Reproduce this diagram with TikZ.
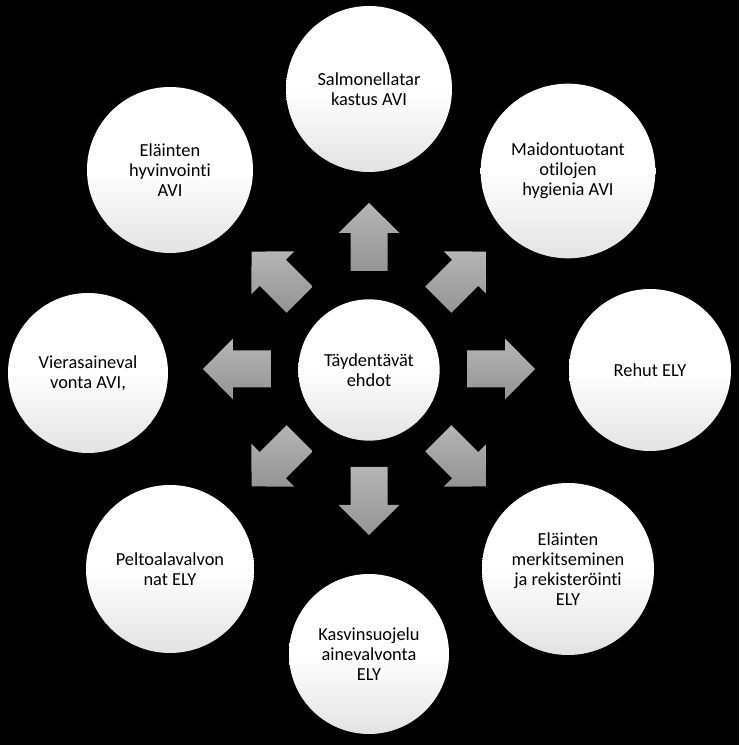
\documentclass[tikz,border=0pt]{standalone}
\usepackage{fontspec}
\setmainfont{Carlito}[Ligatures=NoCommon]
\begin{document}
\begin{tikzpicture}[
    x=0.75pt, y=0.75pt,
    font=\fontsize{13.8}{15}\selectfont,
    hub/.style={circle, inner sep=0pt, align=center, top color=white, bottom color=black!11, middle color=white, minimum size=106pt},
    leaf/.style={hub, minimum size=#1},
    leaf/.default=124pt,
    blockarr/.style={top color=black!29, bottom color=black!42}
  ]
    \fill[black] (-369,-376) rectangle (370,369);
    \node[hub] (core) at (0,-1) {Täydentävät\\ehdot};
    \node[leaf=124.5pt] (salm) at (0,280) {Salmonellatar\\kastus AVI};
    \node[leaf=131pt] (maito) at (199,198) {Maidontuotant\\otilojen\\hygienia AVI};
    \node[leaf=121.5pt] (rehu) at (281,-1) {Rehut ELY};
    \node[leaf=129pt] (merk) at (199,-200) {Eläinten\\merkitseminen\\ja rekisteröinti\\ELY};
    \node[leaf=120pt] (kasvi) at (0,-285) {Kasvinsuojelu\\ainevalvonta\\ELY};
    \node[leaf=126pt] (pelto) at (-199,-200) {Peltoalavalvon\\nat ELY};
    \node[leaf=120pt] (vieras) at (-281,-4) {Vierasaineval\\vonta AVI,};
    \node[leaf=124.5pt] (hyvin) at (-199,199) {Eläinten\\hyvinvointi\\AVI};
    \foreach \a in {0,45,...,315}
      \shade[blockarr] ([shift={(\a-90:18.5)}]\a:98) -- ([shift={(\a-90:18.5)}]\a:136)
        -- ([shift={(\a-90:30.5)}]\a:136) -- (\a:166) -- ([shift={(\a+90:30.5)}]\a:136)
        -- ([shift={(\a+90:18.5)}]\a:136) -- ([shift={(\a+90:18.5)}]\a:98) -- cycle;
  \end{tikzpicture}
\end{document}
